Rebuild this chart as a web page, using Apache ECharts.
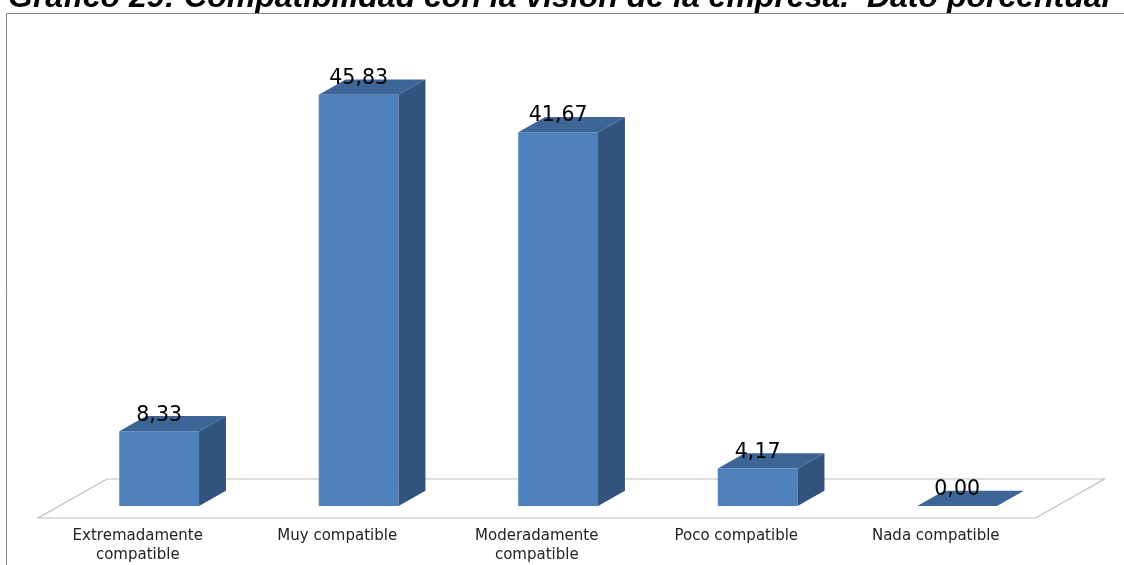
<!DOCTYPE html>
<html>
<head>
<meta charset="utf-8">
<title>Gráfico 29</title>
<script src="https://cdn.jsdelivr.net/npm/echarts@6/dist/echarts.min.js"></script>
<style>
  html, body { margin: 0; padding: 0; background: #fff; }
  #chart { width: 1124px; height: 565px; }
</style>
</head>
<body>
<div id="chart"></div>
<script>
// Categories and percentages
const categories = [
  'Extremadamente\ncompatible',
  'Muy compatible',
  'Moderadamente\ncompatible',
  'Poco compatible',
  'Nada compatible'
];
const values = [8.33, 45.83, 41.67, 4.17, 0.00];
const titleText = 'Gráfico 29: Compatibilidad con la visión de la empresa.  Dato porcentual';

// Oblique projection of the floor depth, and where the bars sit inside it
const DEPTH_X = 69, DEPTH_Y = 39;
const BAR_FRONT = 0.31, BAR_DEPTH = 0.39;
const BAR_WIDTH = 0.4;

const colors = { front: '#4F81BD', top: '#3D6596', side: '#32537D', floor: '#BFBFBF' };

const fmt = v => v.toFixed(2).replace('.', ',');

function renderFloor(params) {
  const cs = params.coordSys;
  const x0 = cs.x, x1 = cs.x + cs.width, y = cs.y + cs.height;
  return {
    type: 'polygon',
    shape: { points: [[x0, y], [x1, y], [x1 + DEPTH_X, y - DEPTH_Y], [x0 + DEPTH_X, y - DEPTH_Y]] },
    style: { fill: 'none', stroke: colors.floor, lineWidth: 1.2 },
    silent: true
  };
}

function renderBar(params, api) {
  const i = api.value(0), v = api.value(1);
  const base = api.coord([i, 0]);
  const top = api.coord([i, v]);
  const band = api.size([1, 0])[0];
  const w = band * BAR_WIDTH;
  const ox = DEPTH_X * BAR_FRONT, oy = DEPTH_Y * BAR_FRONT;
  const dx = DEPTH_X * BAR_DEPTH, dy = DEPTH_Y * BAR_DEPTH;
  const x = base[0] - w / 2 + ox;
  const yb = base[1] - oy;
  const yt = top[1] - oy;
  const children = [];
  if (yb - yt > 0.5) {
    children.push({
      type: 'rect', shape: { x: x, y: yt, width: w, height: yb - yt },
      style: { fill: colors.front }
    });
    children.push({
      type: 'polygon',
      shape: { points: [[x + w, yt], [x + w + dx, yt - dy], [x + w + dx, yb - dy], [x + w, yb]] },
      style: { fill: colors.side }
    });
  }
  children.push({
    type: 'polygon',
    shape: { points: [[x, yt], [x + w, yt], [x + w + dx, yt - dy], [x + dx, yt - dy]] },
    style: { fill: colors.top }
  });
  children.push({
    type: 'text',
    style: {
      x: x + w / 2, y: yt - 16, text: fmt(v),
      align: 'center', verticalAlign: 'middle',
      font: '20.5px "DejaVu Sans"', fill: '#000'
    }
  });
  return { type: 'group', children: children };
}

const chart = echarts.init(document.getElementById('chart'), null, { renderer: 'canvas' });

chart.setOption({
  animation: false,
  backgroundColor: '#fff',
  graphic: [
    {
      type: 'text', z: 0, left: 8, top: -18,
      style: {
        text: titleText,
        font: 'italic bold 32px "Liberation Sans", Arial, sans-serif',
        fill: '#000'
      }
    },
    {
      type: 'rect', z: 1,
      shape: { x: 6.5, y: 13.5, width: 1130, height: 570 },
      style: { fill: '#fff', stroke: '#878787', lineWidth: 1 }
    }
  ],
  grid: { left: 38, right: 88.5, top: 69.5, bottom: 45 },
  xAxis: {
    type: 'category',
    data: categories,
    z: 5,
    axisLine: { show: false },
    axisTick: { show: false },
    axisLabel: {
      interval: 0, margin: 9,
      fontFamily: 'DejaVu Sans', fontSize: 15, lineHeight: 19,
      color: '#222'
    },
    splitLine: { show: false }
  },
  yAxis: { type: 'value', min: 0, max: 50, show: false },
  series: [
    {
      type: 'custom', name: 'floor', z: 2,
      data: [[0]],
      renderItem: renderFloor,
      silent: true
    },
    {
      type: 'custom', name: 'porcentaje', z: 3,
      data: values.map((v, i) => [i, v]),
      encode: { x: 0, y: 1 },
      renderItem: renderBar
    }
  ]
});
</script>
</body>
</html>
